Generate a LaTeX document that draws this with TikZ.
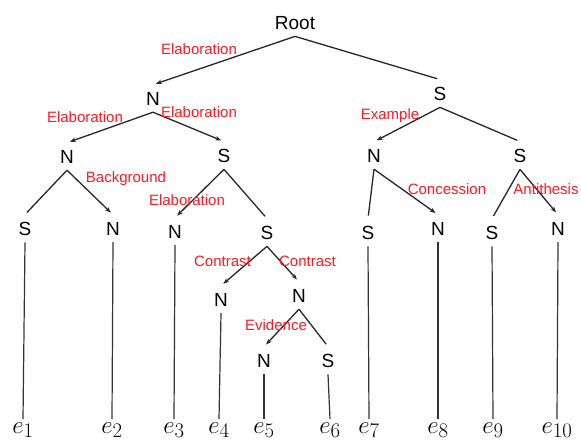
\documentclass[tikz,border=0pt]{standalone}
\usepackage[no-math]{fontspec}
\newfontfamily\arialfont{Liberation Sans}
\usetikzlibrary{arrows.meta}
\definecolor{relred}{RGB}{255,25,35}
\begin{document}
\begin{tikzpicture}[x=1pt,y=-1pt,
  tn/.style={anchor=base,inner sep=7pt,font=\arialfont\fontsize{19}{22}\selectfont,text=black},
  leaf/.style={anchor=base,inner sep=3pt,font=\fontsize{31}{34}\selectfont},
  rel/.style={anchor=base,inner sep=0pt,font=\arialfont\fontsize{15}{17}\selectfont,text=relred},
  edge/.style={line width=1.3pt,draw=black!85,shorten >=3pt},
  arr/.style={edge,-{Stealth[length=6pt,width=4.5pt]}},
  stem/.style={line width=1.2pt,draw=black!80}]
\useasboundingbox (0,0) rectangle (581,442);
% tree nodes
\node[tn] (root) at (295,29) {Root};
\node[tn] (n1) at (153,105) {N};
\node[tn] (s1) at (440,100) {S};
\node[tn] (n2) at (67,163) {N};
\node[tn] (s2) at (224,162) {S};
\node[tn] (n3) at (374,162) {N};
\node[tn] (s3) at (520,162) {S};
\node[tn] (l1) at (25,235) {S};
\node[tn] (l2) at (113,235) {N};
\node[tn] (l3) at (175,238) {N};
\node[tn] (s4) at (267,239) {S};
\node[tn] (l7) at (368,239) {S};
\node[tn] (l8) at (438,235) {N};
\node[tn] (l9) at (492,239) {S};
\node[tn] (l10) at (558,235) {N};
\node[tn] (l4) at (221,306) {N};
\node[tn] (n5) at (299,302) {N};
\node[tn] (l5) at (264,367) {N};
\node[tn] (l6) at (328,367) {S};
% leaves
\node[leaf] (e1) at (23,433) {$e_1$};
\node[leaf] (e2) at (112,433) {$e_2$};
\node[leaf] (e3) at (174,433) {$e_3$};
\node[leaf] (e4) at (219,433) {$e_4$};
\node[leaf] (e5) at (264,433) {$e_5$};
\node[leaf] (e6) at (330,433) {$e_6$};
\node[leaf] (e7) at (369,433) {$e_7$};
\node[leaf] (e8) at (438,433) {$e_8$};
\node[leaf] (e9) at (493,433) {$e_9$};
\node[leaf] (e10) at (557,433) {$e_{10}$};
% edges
\draw[arr] (root.south) -- (n1.north);
\draw[edge] (root.south) -- (s1.north);
\draw[arr] (n1.south) -- (n2.north);
\draw[arr] (n1.south) -- (s2.north);
\draw[edge] (n2.south) -- (l1.north);
\draw[arr] (n2.south) -- (l2.north);
\draw[arr] (s2.south) -- (l3.north);
\draw[edge] (s2.south) -- (s4.north);
\draw[arr] (s4.south) -- (l4.north);
\draw[arr] (s4.south) -- (n5.north);
\draw[arr] (n5.south) -- (l5.north);
\draw[edge] (n5.south) -- (l6.north);
\draw[arr] (s1.south) -- (n3.north);
\draw[edge] (s1.south) -- (s3.north);
\draw[edge] (n3.south) -- (l7.north);
\draw[arr] (n3.south) -- (l8.north);
\draw[edge] (s3.south) -- (l9.north);
\draw[arr] (s3.south) -- (l10.north);
% stems
\draw[stem] (l1.south) -- (e1.north);
\draw[stem] (l2.south) -- (e2.north);
\draw[stem] (l3.south) -- (e3.north);
\draw[stem] (l4.south) -- (e4.north);
\draw[stem] (l5.south) -- (e5.north);
\draw[stem] (l6.south) -- (e6.north);
\draw[stem] (l7.south) -- (e7.north);
\draw[stem] (l8.south) -- (e8.north);
\draw[stem] (l9.south) -- (e9.north);
\draw[stem] (l10.south) -- (e10.north);
% relation labels
\node[rel] (r1) at (199,54) {Elaboration};
\node[rel] (r2) at (85,122) {Elaboration};
\node[rel] (r3) at (199,117) {Elaboration};
\node[rel] (r4) at (126,182) {Background};
\node[rel] (r5) at (187,205) {Elaboration};
\node[rel] (r6) at (390,119) {Example};
\node[rel] (r7) at (447,194) {Concession};
\node[rel] (r8) at (546,194) {Antithesis};
\node[rel] (r9) at (222.5,266) {Contrast};
\node[rel] (r10) at (307.5,266) {Contrast};
\node[rel] (r11) at (276,330) {Evidence};
\end{tikzpicture}
\end{document}
